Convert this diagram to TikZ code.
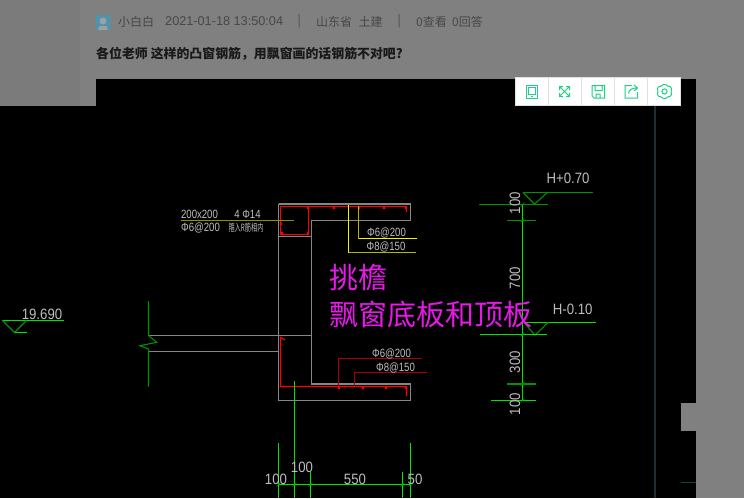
\documentclass[tikz,border=0pt]{standalone}
\usepackage{fontspec}
\usepackage{graphicx}
\setmainfont{Liberation Sans}
\newfontfamily\cjk{Noto Sans CJK SC}
\definecolor{pagegray}{HTML}{808080}
\definecolor{sidegray}{HTML}{7B7B7B}
\definecolor{linegray}{HTML}{868686}
\definecolor{cadgreen}{HTML}{00E400}
\definecolor{darkgreen}{HTML}{009000}
\definecolor{cadred}{HTML}{FF0000}
\definecolor{darkred}{HTML}{A80000}
\definecolor{cadyellow}{HTML}{F4F400}
\definecolor{darkyellow}{HTML}{8F8F00}
\definecolor{cadtext}{HTML}{BEBEBE}
\definecolor{iconmint}{HTML}{1FD087}
\definecolor{pinktext}{HTML}{E818E8}
\definecolor{gridblue}{HTML}{1E2E38}
\newcommand{\cad}[2][.88]{\scalebox{#1}[1]{#2}}
\tikzset{
    conc/.style = {draw=linegray, line width=1.1pt},
    greenline/.style = {draw=cadgreen, line width=1.1pt},
    darkline/.style = {draw=darkgreen, line width=1.1pt},
    redline/.style = {draw=cadred, line width=1.2pt},
    drawnum/.style = {text=cadtext, font=\fontsize{15}{15}\selectfont, inner sep=0pt},
    rebarnum/.style = {text=cadtext, font=\fontsize{12}{12}\selectfont, inner sep=0pt},
    headtext/.style = {text=black!72, font=\fontsize{12}{12}\selectfont\cjk, inner sep=0pt, anchor=west},
    pinklabel/.style = {text=pinktext, font=\fontsize{29}{29}\selectfont\cjk, inner sep=0pt, anchor=west},
    pics/levelmark/.style n args = {3}{
        code = {
        \draw [darkline] (0,0) -- (#1,#2) -- (#3,0);
        }
    },
    pics/cell/.style = {
        code = {
        \draw [draw=black!12, fill=white, line width=1pt] (-16.5,-14) rectangle (16.5,14);
        }
    },
    pics/dimtick/.style = {
        code = {
        \draw [draw=darkgreen, line width=.6pt] (-2,2) -- (2,-2);
        }
    }
}
\begin{document}
\begin{tikzpicture}[x=1pt,y=-1pt]
    \useasboundingbox (0,0) rectangle (744,498);
    % page
    \fill [pagegray] (0,0) rectangle (744,498);
    \fill [sidegray] (0,0) rectangle (80,106);
    \fill [black] (96,79) rectangle (696,106);
    \fill [black] (0,106) rectangle (696,498);
    \fill [pagegray] (681,403) rectangle (696,431);
    \draw [draw=teal!60!black, line width=1pt] (681,482.5) -- (696,482.5);
    \draw [draw=gridblue, line width=2pt] (655,106) -- (655,498);

    % header
    \fill [blue!30!cyan!40!gray] (96,15) rectangle (110,30);
    \fill [gray!75!white] (103,21) circle (3.5);
    \fill [gray!75!white] (98,30) -- (99.5,26) -- (106.5,26) -- (108,30) -- cycle;
    \node [headtext] (author) at (118,21.5) {小白白};
    \node [headtext, font=\fontsize{12.7}{12}\selectfont] (date) at (165,21.5) {2021-01-18 13:50:04};
    \node [headtext] (sep1) at (297.5,21.5) {|};
    \node [headtext] (place) at (316,21.5) {山东省};
    \node [headtext] (field) at (358.5,21.5) {土建};
    \node [headtext] (sep2) at (397.5,21.5) {|};
    \node [headtext] (views) at (416,21.5) {0查看};
    \node [headtext] (answers) at (452,21.5) {0回答};
    \node [headtext, text=black!90, font=\fontsize{12.9}{12}\selectfont\cjk\bfseries] (title) at (96,54) {各位老师 这样的凸窗钢筋，用飘窗画的话钢筋不对吧?};

    % toolbar
    \path pic at (531.5,91.5) {cell};
    \path pic at (564.5,91.5) {cell};
    \path pic at (597.5,91.5) {cell};
    \path pic at (630.5,91.5) {cell};
    \path pic at (663.5,91.5) {cell};
    \draw [iconmint, line width=1pt] (526.5,85) rectangle (537,98) (528.5,87) rectangle (535,94.5) (531,96.3) -- (533,96.3);
    \draw [iconmint, line width=1pt] (559.5,86.5) -- (569.5,96.5) (569.5,86.5) -- (559.5,96.5)
        (559.5,90) -- (559.5,86.5) -- (563,86.5) (566,86.5) -- (569.5,86.5) -- (569.5,90)
        (559.5,93) -- (559.5,96.5) -- (563,96.5) (566,96.5) -- (569.5,96.5) -- (569.5,93);
    \draw [iconmint, line width=1pt] (592,85.5) -- (604.5,85.5) -- (604.5,98) -- (594,98) -- (592,96) -- cycle
        (595,85.5) -- (595,90.5) -- (602,90.5) -- (602,85.5) (596,98) -- (596,94) -- (600,94) -- (600,98);
    \draw [iconmint, line width=1pt] (632,85.5) -- (625,85.5) -- (625,98) -- (637.5,98) -- (637.5,92)
        (628.5,93.5) .. controls (629,89.5) and (632,88) .. (637,88) (634,85) -- (637.5,88) -- (634,91);
    \draw [iconmint, line width=1pt] (664.5,91.5) circle (2.6);
    \draw [iconmint, line width=1pt, rounded corners=1pt] (662.5,84.5) -- (666.5,84.5) -- (667.5,86.5) -- (670,86) -- (672,89.5) -- (670.5,91.5) -- (672,93.5) -- (670,97) -- (667.5,96.5) -- (666.5,98.5) -- (662.5,98.5) -- (661.5,96.5) -- (659,97) -- (657,93.5) -- (658.5,91.5) -- (657,89.5) -- (659,86) -- (661.5,86.5) -- cycle;

    % section outline
    \draw [conc] (148.5,335.5) -- (311.5,335.5);
    \draw [conc] (148.5,351.5) -- (278.5,351.5) -- (278.5,400.5) -- (410.5,400.5) -- (410.5,384.5) -- (311.5,384.5) -- (311.5,220.5) -- (410.5,220.5) -- (410.5,204.5) -- (278.5,204.5) -- (278.5,351.5);
    \draw [conc] (278.5,236.5) -- (311.5,236.5);
    \draw [conc, line width=1.8pt] (311.5,384.3) -- (410.5,384.3);
    \draw [conc, line width=1.8pt] (278.5,204.3) -- (410.5,204.3);

    % top bars
    \draw [redline] (280.5,206.5) rectangle (308.5,234.5);
    \draw [redline] (308.5,206.5) -- (406.5,206.5) -- (406.5,212);
    \foreach \dotx in {308,334,359,384,406}
        \fill [cadred] (\dotx,208) circle (1.6);
    \foreach \dotx/\doty in {282/233,308/233,281/224}
        \fill [cadred] (\dotx,\doty) circle (1.6);
    \draw [draw=darkyellow, line width=1.2pt] (181,220.5) -- (294,220.5);
    \draw [draw=darkyellow!60!cadyellow, line width=1.1pt] (358.5,206) -- (358.5,238.5);
    \draw [draw=cadyellow, line width=1.1pt] (358.5,238.5) -- (417,238.5);
    \draw [draw=cadyellow, line width=1.1pt] (348.5,205) -- (348.5,252.5);
    \draw [draw=darkyellow!60!cadyellow, line width=1.1pt] (348.5,252.5) -- (416,252.5);

    % bottom bars
    \draw [redline] (285,340) -- (280.5,337.5) -- (280.5,386.5) -- (406.5,386.5) -- (406.5,396);
    \foreach \dotx in {339,363,386,406}
        \fill [cadred] (\dotx,388) circle (1.6);
    \draw [draw=darkred, line width=1.1pt] (338.5,386) -- (338.5,358.5) -- (421.5,358.5);
    \draw [draw=darkred, line width=1.1pt] (354.5,386) -- (354.5,372.5) -- (427,372.5);

    % break line
    \draw [darkline] (148.5,301) -- (148.5,335.5) -- (156.7,342.3) -- (140,345.7) -- (148.5,349) -- (148.5,386.7);

    % level marks
    \draw [greenline] (2,320.5) -- (64,320.5);
    \path pic at (2.5,320.5) {levelmark={12}{12}{24}};
    \draw [greenline] (14.5,332.5) -- (27,332.5);
    \draw [darkline] (523,192.5) -- (593,192.5);
    \path pic at (523,192.5) {levelmark={11.5}{11.5}{24.5}};
    \draw [greenline] (524,322.5) -- (596,322.5);
    \path pic at (524,322.5) {levelmark={11}{12.7}{24}};

    % dimensions right
    \draw [greenline] (522.5,204.5) -- (522.5,400.5);
    \draw [darkline] (479,204.5) -- (548,204.5);
    \draw [darkline] (507,220.5) -- (536,220.5);
    \draw [greenline] (480,334.5) -- (547,334.5);
    \draw [darkline, line width=1.6pt] (507,384) -- (536,384);
    \draw [greenline] (491,400.5) -- (536,400.5);
    \foreach \ticky in {204.5,220.5,334.5,384,400.5}
        \path pic at (522.5,\ticky) {dimtick};

    % dimensions bottom
    \draw [greenline] (294.5,380.7) -- (294.5,498);
    \draw [greenline] (278.5,443) -- (278.5,498);
    \draw [greenline] (310.5,472) -- (310.5,498);
    \draw [greenline] (402.5,472) -- (402.5,498);
    \draw [greenline] (410.5,443) -- (410.5,498);
    \draw [greenline] (278.5,484.5) -- (410.5,484.5);
    \foreach \tickx in {278.5,294.5,310.5,402.5,410.5}
        \path pic at (\tickx,484.5) {dimtick};

    % labels
    \node [drawnum] (lvlA) at (42,314) {\cad{19.690}};
    \node [drawnum] (lvlB) at (568,178) {\cad{H+0.70}};
    \node [drawnum] (lvlC) at (572.7,309) {\cad{H-0.10}};
    \node [drawnum, rotate=90] (dimA) at (515,203) {\cad{100}};
    \node [drawnum, rotate=90] (dimB) at (515,278) {\cad{700}};
    \node [drawnum, rotate=90] (dimC) at (515,362) {\cad{300}};
    \node [drawnum, rotate=90] (dimD) at (515,404) {\cad{100}};
    \node [drawnum] (dimE) at (276,479) {\cad{100}};
    \node [drawnum] (dimF) at (302,467) {\cad{100}};
    \node [drawnum] (dimG) at (355,479) {\cad{550}};
    \node [drawnum] (dimH) at (415,479) {\cad{50}};
    \node [rebarnum] (beam) at (199.5,214.5) {\cad[.8]{200x200}};
    \node [rebarnum] (main) at (247.5,214.5) {\cad[.8]{4 Φ14}};
    \node [rebarnum] (stirrup) at (200.5,228) {\cad[.8]{Φ6@200}};
    \node [rebarnum, font=\fontsize{10}{10}\selectfont\cjk] (note) at (246,228) {\cad[.62]{箍入R筋相内}};
    \node [rebarnum] (topA) at (386.5,233) {\cad[.8]{Φ6@200}};
    \node [rebarnum] (topB) at (386,247) {\cad[.8]{Φ8@150}};
    \node [rebarnum] (botA) at (391.5,354) {\cad[.8]{Φ6@200}};
    \node [rebarnum] (botB) at (395.5,368) {\cad[.8]{Φ8@150}};
    \node [pinklabel] (eave) at (329,277) {挑檐};
    \node [pinklabel] (sill) at (329,315) {飘窗底板和顶板};
\end{tikzpicture}
\end{document}
